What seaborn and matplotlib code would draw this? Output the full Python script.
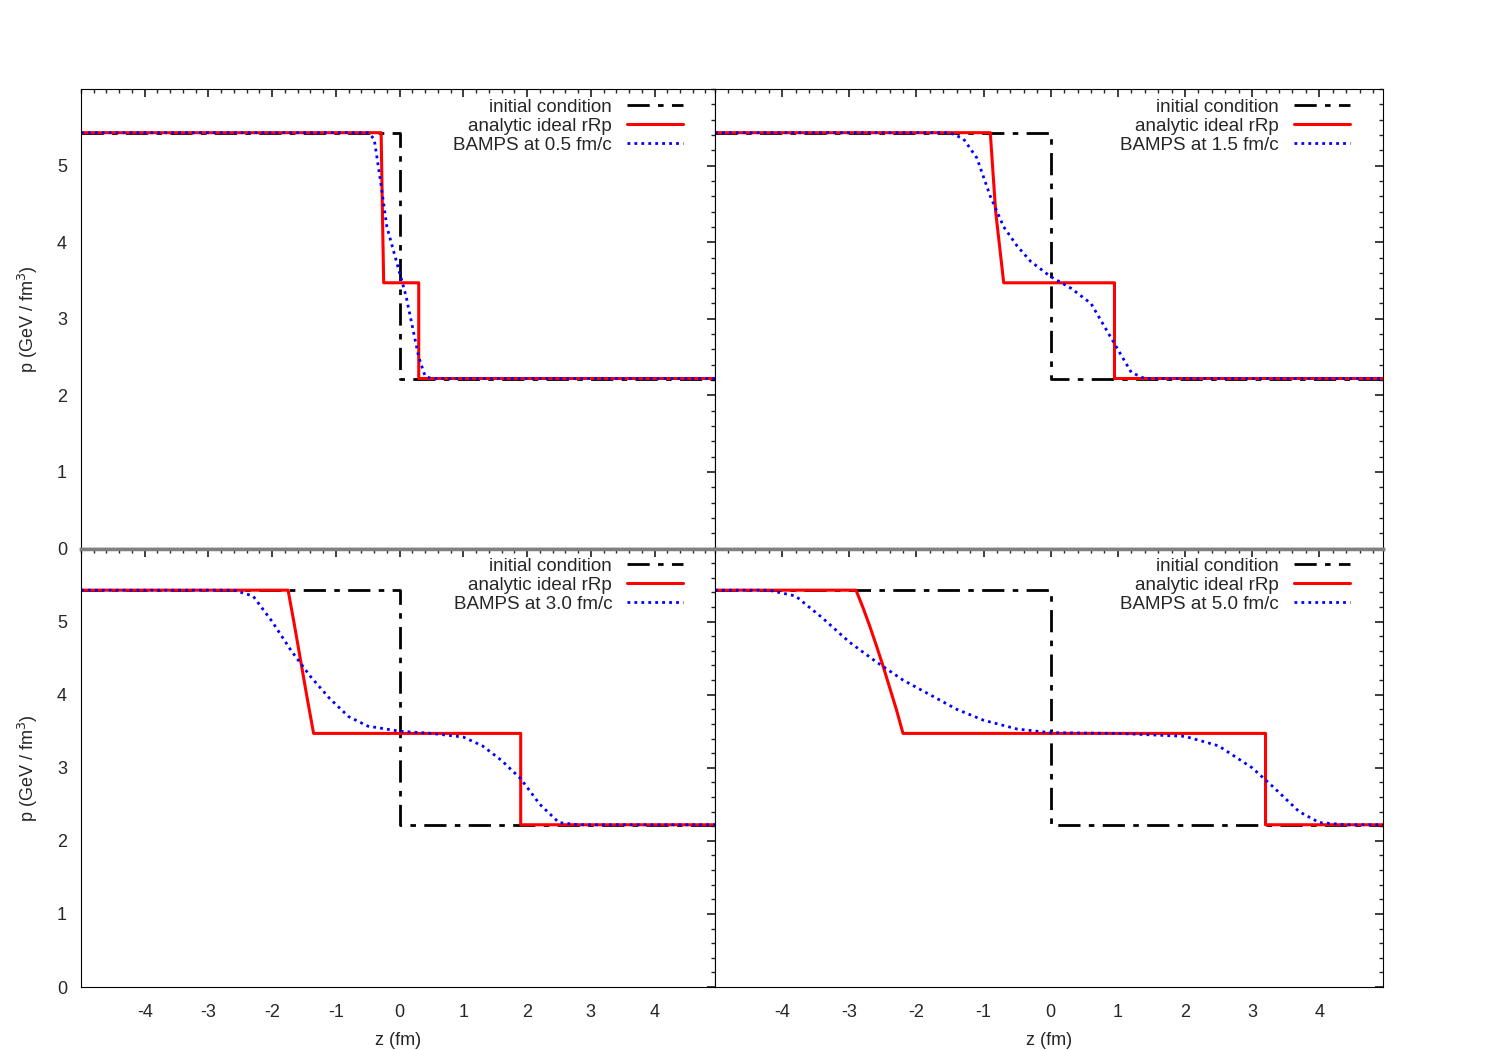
import matplotlib
matplotlib.use("Agg")
import matplotlib.pyplot as plt
import seaborn as sns
from matplotlib.ticker import MultipleLocator

sns.set_theme(style="white")
plt.rcParams['font.family'] = ['Liberation Sans', 'DejaVu Sans']
plt.rcParams['axes.unicode_minus'] = False

times = ["0.5", "1.5", "3.0", "5.0"]
p_left, p_mid, p_right = 5.43, 3.47, 2.22

init_z = [-5, 0, 0, 5]
init_p = [p_left, p_left, p_right, p_right]

ana_z = [
    [-5, -0.29, -0.27, -0.25, -0.25, 0.30, 0.30, 5],
    [-5, -0.90, -0.82, -0.70, -0.70, 0.95, 0.95, 5],
    [-5, -1.75, -1.65, -1.55, -1.45, -1.35, 1.90, 1.90, 5],
    [-5, -2.90, -2.80, -2.70, -2.60, -2.50, -2.40, -2.30, -2.20, 3.20, 3.20, 5],
]
ana_p = [
    [p_left, p_left, 4.4, p_mid, p_mid, p_mid, p_right, p_right],
    [p_left, p_left, 4.4, p_mid, p_mid, p_mid, p_right, p_right],
    [p_left, p_left, 4.95, 4.45, 3.95, p_mid, p_mid, p_right, p_right],
    [p_left, p_left, 5.2, 4.95, 4.68, 4.4, 4.1, 3.8, p_mid, p_mid, p_right, p_right],
]

bamps_z = [
    [-5, -0.5, -0.4, -0.3, -0.2, -0.1, 0, 0.1, 0.2, 0.3, 0.4, 0.5, 5],
    [-5, -1.5, -1.3, -1.1, -0.9, -0.7, -0.5, -0.3, 0, 0.3, 0.6, 0.8, 1.0, 1.2, 1.4, 5],
    [-5, -2.6, -2.3, -2.0, -1.7, -1.4, -1.1, -0.8, -0.5, 0, 0.5, 1.0, 1.3, 1.6, 1.9, 2.2, 2.5, 2.8, 5],
    [-5, -4.2, -3.8, -3.4, -3.0, -2.6, -2.2, -1.8, -1.4, -1.0, -0.5, 0, 1.0, 2.0, 2.5, 3.0, 3.3, 3.7, 4.0, 4.4, 5],
]
bamps_p = [
    [5.43, 5.43, 5.35, 4.8, 4.2, 3.9, 3.6, 3.3, 2.9, 2.5, 2.25, 2.22, 2.22],
    [5.43, 5.43, 5.35, 5.1, 4.6, 4.2, 3.95, 3.75, 3.55, 3.4, 3.2, 2.9, 2.6, 2.3, 2.22, 2.22],
    [5.43, 5.43, 5.35, 5.0, 4.6, 4.25, 3.95, 3.7, 3.57, 3.5, 3.47, 3.42, 3.3, 3.1, 2.85, 2.5, 2.25, 2.22, 2.22],
    [5.43, 5.43, 5.35, 5.05, 4.72, 4.45, 4.2, 4.0, 3.8, 3.65, 3.53, 3.48, 3.47, 3.43, 3.3, 3.0, 2.75, 2.4, 2.25, 2.22, 2.22],
]

fig = plt.figure(figsize=(15, 10.5), dpi=100)
L, M, R = 0.054, 0.4767, 0.922
T, H, B = 0.9152, 0.4776, 0.06
rects = [(L, H, M - L, T - H), (M, H, R - M, T - H),
         (L, B, M - L, H - B), (M, B, R - M, H - B)]

for i, rc in enumerate(rects):
    ax = fig.add_axes(rc)
    sns.lineplot(x=init_z, y=init_p, ax=ax, color="black", lw=2, sort=False,
                 linestyle=(0, (8, 3, 2, 3)), label="initial condition", estimator=None)
    sns.lineplot(x=ana_z[i], y=ana_p[i], ax=ax, color="red", lw=2.2, sort=False,
                 label="analytic ideal rRp", estimator=None)
    sns.lineplot(x=bamps_z[i], y=bamps_p[i], ax=ax, color="blue", lw=2, sort=False,
                 linestyle=(0, (1, 1.5)), label=f"BAMPS at {times[i]} fm/c", estimator=None)
    ax.set_xlim(-5, 4.95)
    ax.set_ylim(0, 6)
    ax.xaxis.set_minor_locator(MultipleLocator(0.2))
    ax.yaxis.set_minor_locator(MultipleLocator(0.2))
    ax.set_xticks([-4, -3, -2, -1, 0, 1, 2, 3, 4])
    ax.set_yticks([0, 1, 2, 3, 4, 5])
    ax.tick_params(which="both", direction="in", top=True, right=True, labelsize=13)
    ax.tick_params(which="major", length=6)
    ax.tick_params(which="minor", length=3)
    ax.tick_params(axis="x", pad=12)
    ax.tick_params(axis="y", pad=10)
    for s in ax.spines.values():
        s.set_color("black"); s.set_linewidth(0.8)
    if i < 2:
        ax.tick_params(labelbottom=False)
        ax.set_xlabel("")
        ax.spines["bottom"].set_color("gray"); ax.spines["bottom"].set_linewidth(2.5)
    else:
        ax.set_xlabel("z (fm)", fontsize=13, labelpad=8)
        ax.spines["top"].set_color("gray"); ax.spines["top"].set_linewidth(2.5)
    if i % 2 == 1:
        ax.tick_params(labelleft=False)
        ax.set_ylabel("")
    else:
        ax.set_ylabel("p (GeV / fm$^3$)", fontsize=13, labelpad=12)
    ax.legend(loc="upper right", frameon=False, markerfirst=False, fontsize=13.5,
              handlelength=3.0, borderaxespad=0.1, labelspacing=0.1,
              bbox_to_anchor=(0.965, 1.0))

fig.savefig("out.png", dpi=100)
